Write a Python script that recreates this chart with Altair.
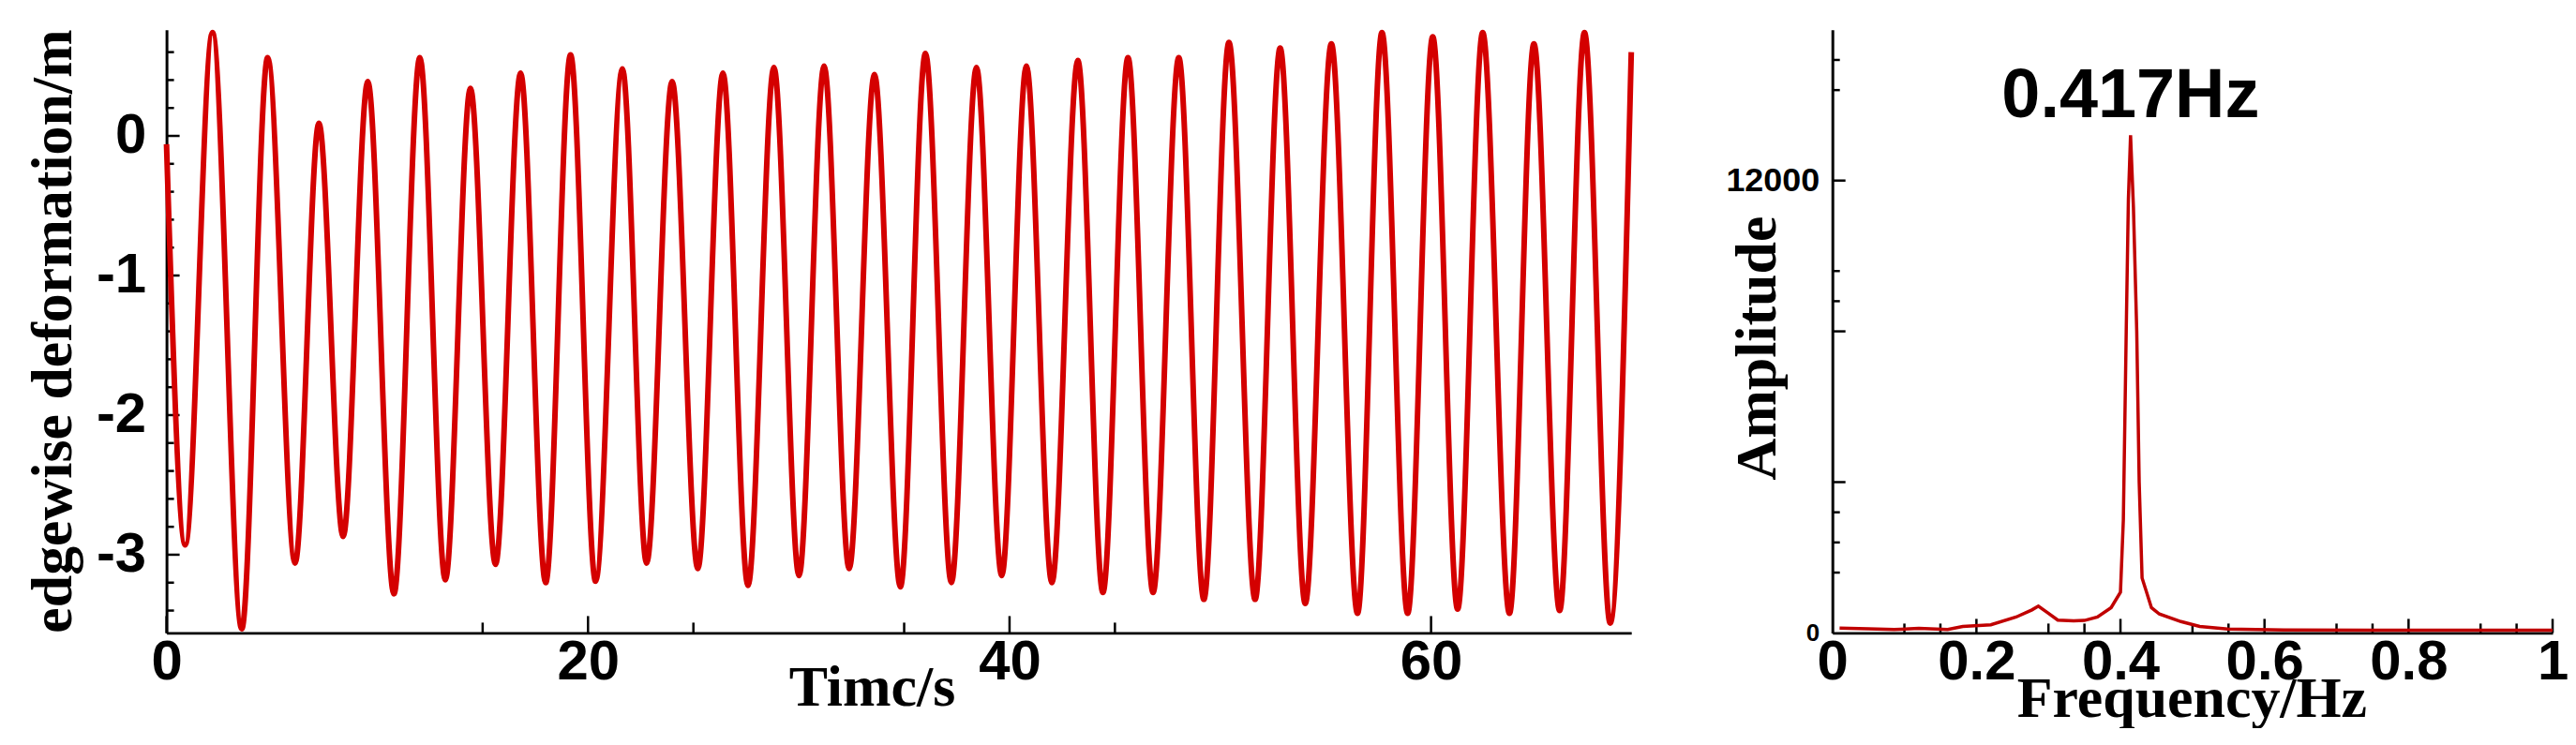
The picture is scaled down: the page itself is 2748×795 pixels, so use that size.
import altair as alt
import pandas as pd

# ---------------- data ----------------
# Left panel: edgewise deformation time history (start, successive troughs/peaks, end)
time_s = [0.00, 0.89, 2.18, 3.57, 4.80, 6.10, 7.23, 8.38, 9.55, 10.79, 12.02, 13.23,
          14.42, 15.61, 16.80, 17.99, 19.17, 20.36, 21.63, 22.78, 23.99, 25.21, 26.40,
          27.59, 28.82, 30.01, 31.20, 32.39, 33.59, 34.82, 36.01, 37.24, 38.43, 39.63,
          40.80, 42.01, 43.24, 44.43, 45.62, 46.81, 48.03, 49.22, 50.41, 51.65, 52.84,
          54.03, 55.27, 56.51, 57.67, 58.89, 60.08, 61.26, 62.45, 63.72, 64.88, 66.10,
          67.28, 68.50, 69.50]
deform_m = [-0.06, -2.93, 0.74, -3.53, 0.56, -3.06, 0.09, -2.87, 0.39, -3.28, 0.56, -3.18,
            0.34, -3.07, 0.45, -3.20, 0.58, -3.19, 0.48, -3.06, 0.39, -3.10, 0.45,
            -3.22, 0.49, -3.15, 0.50, -3.10, 0.44, -3.23, 0.59, -3.20, 0.49, -3.15,
            0.50, -3.20, 0.54, -3.27, 0.56, -3.27, 0.56, -3.32, 0.67, -3.32, 0.63,
            -3.35, 0.66, -3.42, 0.74, -3.42, 0.71, -3.39, 0.74, -3.42, 0.66, -3.40,
            0.74, -3.49, 0.60]

# Right panel: amplitude spectrum
freq_hz = [0.010, 0.050, 0.086, 0.120, 0.160, 0.181, 0.220, 0.255, 0.277, 0.286, 0.298,
           0.313, 0.335, 0.350, 0.368, 0.387, 0.400, 0.404, 0.408, 0.411, 0.414, 0.418,
           0.4226, 0.426, 0.430, 0.443, 0.454, 0.484, 0.510, 0.549, 0.627, 0.750,
           0.900, 1.000]
amplitude = [130, 110, 90, 120, 90, 170, 215, 420, 610, 710, 545,
             340, 320, 330, 420, 670, 1080, 3000, 8000, 11500, 13200, 11300,
             8000, 4000, 1460, 670, 500, 300, 170, 100, 80, 70,
             70, 70]

ann_freq = [0.414]
ann_amp = [13200]
ann_text = ["0.417Hz"]

# axis tick values
left_x_labels = [0, 20, 40, 60]
left_x_minor = [15, 25, 35, 45]
left_y_labels = [0, -1, -2, -3]
left_y_minor = [0.6, 0.4, 0.2, -0.2, -0.4, -0.6, -0.8, -1.2, -1.4, -1.6, -1.8,
                -2.2, -2.4, -2.6, -2.8, -3.2, -3.4]
right_x_labels = [0, 0.2, 0.4, 0.6, 0.8, 1]
right_x_major = [0.2, 0.4, 0.6, 0.8, 1.0]
right_x_minor = [0.1, 0.15, 0.3, 0.35, 0.5, 0.55, 0.7, 0.75, 0.9, 0.95]
right_y_labels = [0, 12000]
right_y_major = [4000, 8000, 12000]
right_y_minor = [1600, 2400, 3200, 8800, 9600, 14400, 15200]

# ---------------- styling ----------------
RED = "#d40000"
SPEC = "#c00000"
SANS = "Liberation Sans"
SERIF = "Liberation Serif"
LW, LH = 1566, 645
RW, RH = 770, 645

common_axis = dict(
    labelFont=SANS, labelFontWeight="bold", labelColor="black",
    labelOverlap=False, labelFlush=False,
    ticks=False, tickSize=0, grid=False,
    domainColor="black", domainWidth=3,
    titleFont=SERIF, titleFontWeight="bold", titleFontSize=62, titleColor="black",
    titleBaseline="alphabetic", titleAlign="center",
)

# ---------------- left panel ----------------
t_scale = alt.Scale(domain=[0, 69.5], nice=False, zero=False)
v_scale = alt.Scale(domain=[-3.56, 0.76], nice=False, zero=False)

x_axis_L = alt.Axis(values=left_x_labels, title="Timc/s", labelFontSize=60,
                    labelPadding=2, titleX=754, titleY=77, **common_axis)
y_axis_L = alt.Axis(values=left_y_labels, title="edgewise deformation/m",
                    labelExpr="toString(datum.value)", labelFontSize=60,
                    labelPadding=22, titleAngle=270, titleX=-102, titleY=322,
                    **common_axis)


def vrules(vals, field, scale, axis, length, height):
    return alt.Chart(pd.DataFrame({field: vals})).mark_rule(
        color="black", strokeWidth=2.5).encode(
        x=alt.X(f"{field}:Q", scale=scale, axis=axis),
        y=alt.value(height), y2=alt.value(height - length))


def hrules(vals, field, scale, axis, length):
    return alt.Chart(pd.DataFrame({field: vals})).mark_rule(
        color="black", strokeWidth=2.5).encode(
        y=alt.Y(f"{field}:Q", scale=scale, axis=axis),
        x=alt.value(0), x2=alt.value(length))


ts_line = alt.Chart(pd.DataFrame({"t": time_s, "v": deform_m})).mark_line(
    color=RED, strokeWidth=6, interpolate="monotone").encode(
    x=alt.X("t:Q", scale=t_scale, axis=x_axis_L),
    y=alt.Y("v:Q", scale=v_scale, axis=y_axis_L))

left = alt.layer(
    vrules(left_x_labels, "t", t_scale, x_axis_L, 18, LH),
    vrules(left_x_minor, "t", t_scale, x_axis_L, 11, LH),
    hrules(left_y_labels, "v", v_scale, y_axis_L, 14),
    hrules(left_y_minor, "v", v_scale, y_axis_L, 8),
    ts_line,
).properties(width=LW, height=LH)

# ---------------- right panel ----------------
f_scale = alt.Scale(domain=[0, 1], nice=False, zero=False)
a_scale = alt.Scale(domain=[0, 16000], nice=False, zero=False)

x_axis_R = alt.Axis(values=right_x_labels, title="Frequency/Hz",
                    labelExpr="toString(datum.value)", labelFontSize=60,
                    labelPadding=2, titleX=384, titleY=89, **common_axis)
y_axis_R = alt.Axis(values=right_y_labels, title="Amplitude",
                    labelExpr="toString(datum.value)",
                    labelFontSize={"condition": {"test": "datum.value == 0", "value": 26}, "value": 36},
                    labelPadding=14, titleAngle=270, titleX=-61, titleY=340,
                    **common_axis)

spec_line = alt.Chart(pd.DataFrame({"f": freq_hz, "a": amplitude})).mark_line(
    color=SPEC, strokeWidth=3.5).encode(
    x=alt.X("f:Q", scale=f_scale, axis=x_axis_R),
    y=alt.Y("a:Q", scale=a_scale, axis=y_axis_R))

ann = alt.Chart(pd.DataFrame({"f": ann_freq, "a": ann_amp, "label": ann_text})).mark_text(
    font=SANS, fontWeight="bold", fontSize=74, color="black",
    align="center", baseline="alphabetic", dy=-19).encode(
    x=alt.X("f:Q", scale=f_scale, axis=x_axis_R),
    y=alt.Y("a:Q", scale=a_scale, axis=y_axis_R),
    text="label:N")

right = alt.layer(
    vrules(right_x_major, "f", f_scale, x_axis_R, 15, RH),
    vrules(right_x_minor, "f", f_scale, x_axis_R, 10, RH),
    hrules(right_y_major, "a", a_scale, y_axis_R, 14),
    hrules(right_y_minor, "a", a_scale, y_axis_R, 8),
    spec_line,
    ann,
).properties(width=RW, height=RH)

chart = alt.hconcat(left, right, spacing=215, bounds="flush").properties(
    padding={"left": 17, "top": 13, "right": 0, "bottom": 0},
    background="white",
).configure_view(stroke=None)

chart.save("out.html", embed_options={"renderer": "svg", "actions": False})
